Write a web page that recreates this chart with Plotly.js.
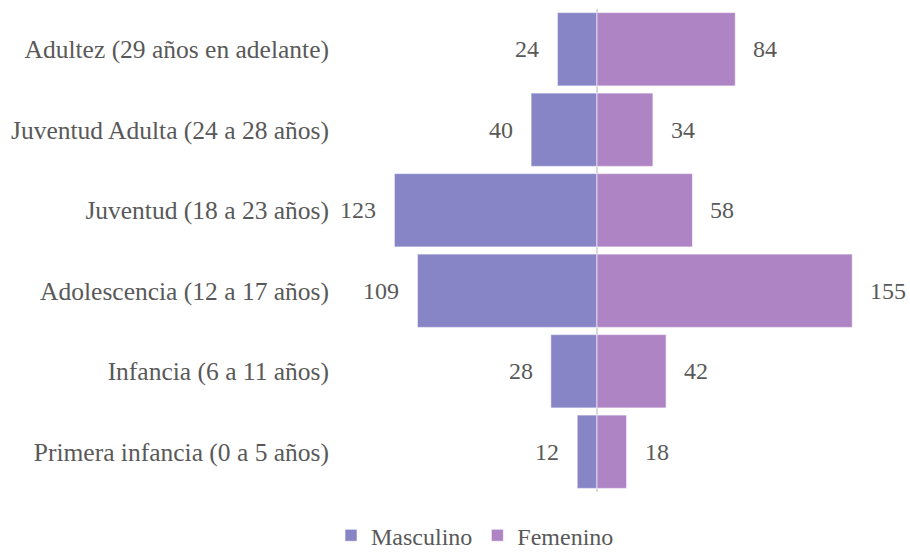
<!DOCTYPE html>
<html>
<head>
<meta charset="utf-8">
<script src="https://cdn.plot.ly/plotly-3.0.1.min.js"></script>
<style>html,body{margin:0;padding:0;background:#fff;}#chart{width:910px;height:553px;}</style>
</head>
<body>
<div id="chart"></div>
<script>
const categories = [
  "Primera infancia (0 a 5 años)",
  "Infancia (6 a 11 años)",
  "Adolescencia (12 a 17 años)",
  "Juventud (18 a 23 años)",
  "Juventud Adulta (24 a 28 años)",
  "Adultez (29 años en adelante)"
];
const masculino = [12, 28, 109, 123, 40, 24];
const femenino = [18, 42, 155, 58, 34, 84];

const fontFam = '"Liberation Serif", "Times New Roman", serif';
const textColor = '#595959';
const fsize = 24;

const traces = [
  {
    type: 'bar', orientation: 'h', name: 'Masculino',
    y: categories, x: masculino.map(v => -v),
    marker: {color: '#8885c7', line: {color: 'rgba(255,255,255,0.6)', width: 1}},
    hoverinfo: 'none'
  },
  {
    type: 'bar', orientation: 'h', name: 'Femenino',
    y: categories, x: femenino,
    marker: {color: '#af84c5', line: {color: 'rgba(255,255,255,0.6)', width: 1}},
    hoverinfo: 'none'
  }
];

const annotations = [];
categories.forEach((c, i) => {
  annotations.push({x: -masculino[i], y: c, xref: 'x', yref: 'y', text: String(masculino[i]),
    showarrow: false, xanchor: 'right', xshift: -16, font: {family: fontFam, size: fsize, color: textColor}});
  annotations.push({x: femenino[i], y: c, xref: 'x', yref: 'y', text: String(femenino[i]),
    showarrow: false, xanchor: 'left', xshift: 16, font: {family: fontFam, size: fsize, color: textColor}});
});

const layout = {
  width: 910, height: 553,
  margin: {l: 340, r: 10, t: 9, b: 61},
  paper_bgcolor: '#fff', plot_bgcolor: '#fff',
  barmode: 'relative', bargap: 0.09,
  showlegend: true,
  legend: {orientation: 'h', xref: 'container', yref: 'container', x: 0.522, xanchor: 'center',
    y: 0.072, yanchor: 'top',
    font: {family: fontFam, size: fsize, color: textColor}, itemwidth: 30, traceorder: 'normal'},
  xaxis: {range: [-156, 184], showticklabels: false, showgrid: false, zeroline: true,
    zerolinecolor: '#d9d9d9', zerolinewidth: 2, layer: 'above traces', fixedrange: true},
  yaxis: {showgrid: false, zeroline: false, ticks: '', ticklabelstandoff: 10,
    tickfont: {family: fontFam, size: 25.5, color: textColor}, automargin: false},
  annotations: annotations,
  font: {family: fontFam, color: textColor}
};

Plotly.newPlot('chart', traces, layout, {displayModeBar: false, staticPlot: true});
</script>
</body>
</html>
